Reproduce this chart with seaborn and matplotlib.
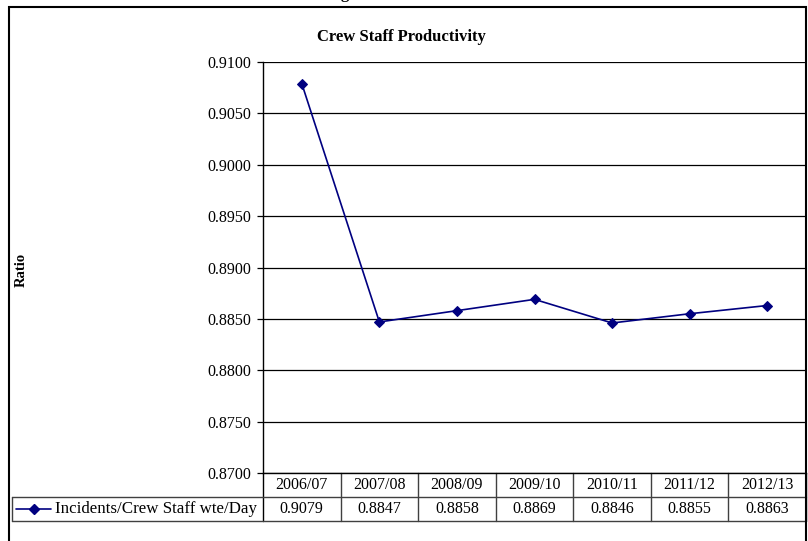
import matplotlib
matplotlib.use('Agg')
import matplotlib.pyplot as plt
import matplotlib.transforms as mtransforms
from matplotlib.lines import Line2D
from matplotlib.patches import Rectangle
import seaborn as sns
import pandas as pd

# ---- data ----
categories = ['2006/07', '2007/08', '2008/09', '2009/10', '2010/11', '2011/12', '2012/13']
values = [0.9079, 0.8847, 0.8858, 0.8869, 0.8846, 0.8855, 0.8863]
series_name = 'Incidents/Crew Staff wte/Day'
yticks = [0.8700, 0.8750, 0.8800, 0.8850, 0.8900, 0.8950, 0.9000, 0.9050, 0.9100]
title = 'Crew Staff Productivity'
ylabel = 'Ratio'

sns.set_theme(style='white')
plt.rcParams['font.family'] = ['Liberation Serif', 'DejaVu Serif']

W, H = 808, 541
fig = plt.figure(figsize=(W / 100, H / 100), dpi=100)
fig.patch.set_facecolor('white')


def fx(px):
    return px / W


def fy(py):
    return 1 - py / H


LINE_COLOR = '#000080'
TABLE_COLOR = '#404040'
FS = 11.5

ax = fig.add_axes([fx(263), fy(473), fx(806) - fx(263), fy(62) - fy(473)])
df = pd.DataFrame({'pos': list(range(len(categories))), 'value': values})
sns.lineplot(data=df, x='pos', y='value', ax=ax, color=LINE_COLOR, marker='D',
             markersize=4.8, linewidth=1.2, markeredgecolor=LINE_COLOR, zorder=5)
ax.set_xlim(-0.5, len(categories) - 0.5)
ax.set_ylim(yticks[0], yticks[-1])
ax.set_yticks(yticks)
ax.set_yticklabels([f'{t:.4f}' for t in yticks], fontsize=FS, color='black')
ax.set_xticks([])
ax.set_xlabel('')
ax.set_ylabel('')
ax.yaxis.grid(True, color='black', linewidth=0.9)
ax.xaxis.grid(False)
ax.tick_params(axis='y', left=True, length=4.5, width=0.9, color='black', pad=4)
for s in ['top', 'right']:
    ax.spines[s].set_visible(False)
ax.spines['left'].set_color('black')
ax.spines['left'].set_linewidth(1.0)
ax.spines['bottom'].set_color('black')
ax.spines['bottom'].set_linewidth(1.0)
ax.set_facecolor('white')

# title & axis label
fig.text(fx(401), fy(37), title, ha='center', va='center', fontsize=12,
         fontweight='bold', color='black')
fig.text(fx(21), fy(270), ylabel, ha='center', va='center', rotation=90,
         fontsize=10.5, fontweight='bold', color='black')
# clipped fragment of text above the chart (only its descender shows)
fig.text(fx(345), fy(-2.5), 'g', ha='center', va='baseline', fontsize=12,
         fontweight='bold', color='black')

# ---- data table ----
plot_h = 473 - 62
row_h = 24
trans = mtransforms.blended_transform_factory(ax.transData, ax.transAxes)


def ay(px_below):
    return -px_below / plot_h


n = len(categories)
# vertical separators
for i in range(n + 1):
    xb = i - 0.5
    ax.add_line(Line2D([xb, xb], [ay(0), ay(2 * row_h)], transform=trans,
                       color=TABLE_COLOR if 0 < i < n else 'black',
                       lw=1.0, clip_on=False))
# horizontal separators
for r in (1, 2):
    ax.add_line(Line2D([-0.5, n - 0.5], [ay(r * row_h), ay(r * row_h)], transform=trans,
                       color=TABLE_COLOR, lw=1.0, clip_on=False))
    fig.add_artist(Line2D([fx(12), fx(263)], [fy(473 + r * row_h)] * 2,
                          color=TABLE_COLOR, lw=1.0))
fig.add_artist(Line2D([fx(12), fx(12)], [fy(497), fy(521)], color=TABLE_COLOR, lw=1.0))

for i, (c, v) in enumerate(zip(categories, values)):
    ax.text(i, ay(row_h / 2), c, transform=trans, ha='center', va='center',
            fontsize=FS, color='black')
    ax.text(i, ay(row_h * 1.5), f'{v:.4f}', transform=trans, ha='center', va='center',
            fontsize=FS, color='black')

# legend key in table
fig.add_artist(Line2D([fx(16), fx(51)], [fy(509), fy(509)], color=LINE_COLOR, lw=1.2))
fig.add_artist(Line2D([fx(33.5)], [fy(509)], color=LINE_COLOR, marker='D',
                      markersize=4.8, lw=0))
fig.text(fx(55), fy(509), series_name, ha='left', va='center', fontsize=12.2,
         color='black')

# outer chart border
fig.add_artist(Rectangle((fx(9), fy(580)), fx(806) - fx(9), fy(7) - fy(580),
                         transform=fig.transFigure, fill=False, lw=1.5,
                         edgecolor='black', clip_on=False))

fig.savefig('out.png', dpi=100, facecolor='white')
